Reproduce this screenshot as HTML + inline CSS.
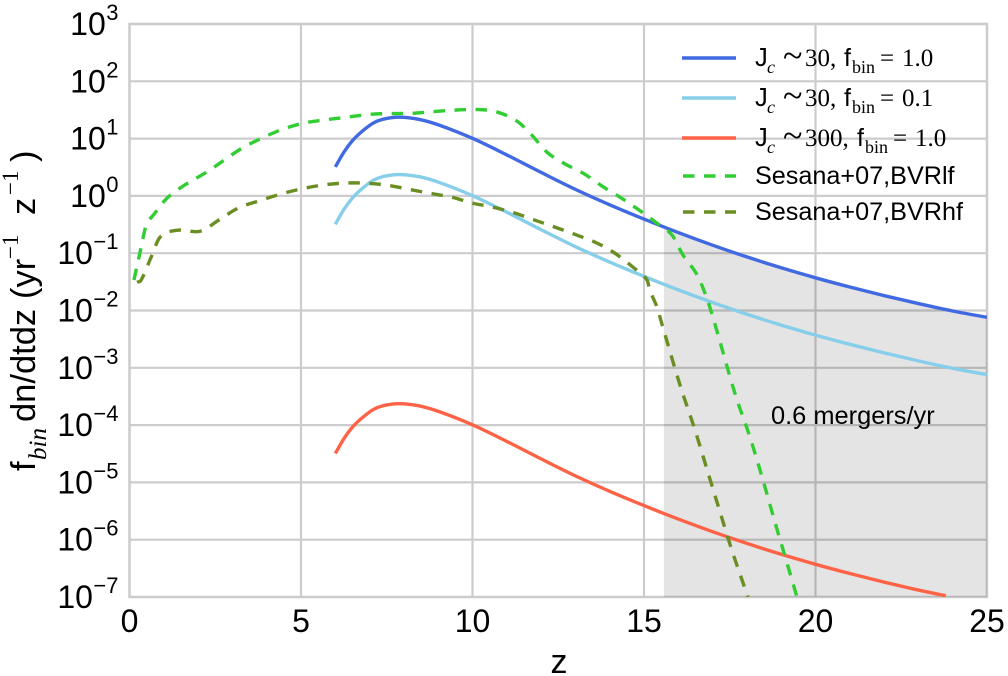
<!DOCTYPE html>
<html lang="en">
<head>
<meta charset="utf-8">
<title>Merger rate versus redshift</title>
<style>
html,body{margin:0;padding:0;background:#fff;width:1008px;height:676px;overflow:hidden}
svg{display:block}
text{font-family:"Liberation Sans",sans-serif;fill:#000}
.serif{font-family:"Liberation Serif",serif}
.curve{fill:none;stroke-width:3.4}
.dash{stroke-dasharray:11.5 9.5}
</style>
</head>
<body>
<svg id="chart" xmlns="http://www.w3.org/2000/svg" width="1008" height="676" viewBox="0 0 1008 676">
  <defs><clipPath id="plot-clip"><rect x="129.5" y="24" width="857.5" height="573"/></clipPath></defs>
  <rect x="129.5" y="24" width="857.5" height="573" fill="#fff"/>
  <g id="grid"></g>
  <rect id="frame" x="129.5" y="24" width="857.5" height="573" fill="none" stroke="#cccccc" stroke-width="2.4"/>
  <path id="shade" fill="#000" fill-opacity="0.105" clip-path="url(#plot-clip)"/>
  <g id="series" clip-path="url(#plot-clip)"></g>
  <g id="x-ticks"></g>
  <g id="y-ticks"></g>

  <text x="559" y="673" font-size="34" text-anchor="middle">z</text>

  <g transform="translate(35,471) rotate(-90)">
    <text x="0" y="0" font-size="34.5">f</text>
    <text class="serif" x="11" y="11" font-size="25" font-style="italic">bin</text>
    <text x="49" y="0" font-size="34.5">dn/dtdz</text>
    <text x="172" y="0" font-size="34.5">(yr</text>
    <text class="serif" x="212" y="-17" font-size="23">−1</text>
    <text x="256" y="0" font-size="34.5">z</text>
    <text class="serif" x="276" y="-17" font-size="23">−1</text>
    <text x="309" y="0" font-size="34.5">)</text>
  </g>

  <text x="771" y="424" font-size="25.4">0.6 mergers/yr</text>

  <g>
    <g>
      <line x1="682" x2="736" y1="58" y2="58" stroke="#4169e1" stroke-width="3.4"/>
      <text x="755" y="66" font-size="25.5">J</text>
      <text class="serif" x="767" y="73" font-size="18" font-style="italic">c</text>
      <text class="serif" x="783" y="67.5" font-size="36">~</text>
      <text class="serif" x="805" y="66" font-size="25">30,</text>
      <text x="844" y="66" font-size="25">f</text>
      <text class="serif" x="852" y="73" font-size="18">bin</text>
      <text class="serif" x="880" y="66" font-size="25">=</text>
      <text class="serif" x="902" y="66" font-size="25">1.0</text>
    </g>
    <g>
      <line x1="682" x2="736" y1="98" y2="98" stroke="#87ceeb" stroke-width="3.4"/>
      <text x="755" y="106" font-size="25.5">J</text>
      <text class="serif" x="767" y="113" font-size="18" font-style="italic">c</text>
      <text class="serif" x="783" y="107.5" font-size="36">~</text>
      <text class="serif" x="805" y="106" font-size="25">30,</text>
      <text x="844" y="106" font-size="25">f</text>
      <text class="serif" x="852" y="113" font-size="18">bin</text>
      <text class="serif" x="880" y="106" font-size="25">=</text>
      <text class="serif" x="902" y="106" font-size="25">0.1</text>
    </g>
    <g>
      <line x1="682" x2="736" y1="138" y2="138" stroke="#ff6347" stroke-width="3.4"/>
      <text x="755" y="146" font-size="25.5">J</text>
      <text class="serif" x="767" y="153" font-size="18" font-style="italic">c</text>
      <text class="serif" x="783" y="147.5" font-size="36">~</text>
      <text class="serif" x="805" y="146" font-size="25">300,</text>
      <text x="857" y="146" font-size="25">f</text>
      <text class="serif" x="865" y="153" font-size="18">bin</text>
      <text class="serif" x="893" y="146" font-size="25">=</text>
      <text class="serif" x="915" y="146" font-size="25">1.0</text>
    </g>
    <g>
      <line class="dash" x1="683" x2="736" y1="176" y2="176" stroke="#32cd32" stroke-width="3.4"/>
      <text x="755" y="184" font-size="25.2">Sesana+07,BVRlf</text>
    </g>
    <g>
      <line class="dash" x1="683" x2="736" y1="212" y2="212" stroke="#6b8e23" stroke-width="3.4"/>
      <text x="755" y="220" font-size="25.2">Sesana+07,BVRhf</text>
    </g>
  </g>
</svg>
<script>
// Chart data (z = redshift, values = f_bin dn/dtdz in yr^-1 z^-1)
const xTickValues = [0, 5, 10, 15, 20, 25];
const yTickExponents = [3, 2, 1, 0, -1, -2, -3, -4, -5, -6, -7];

const jcZ = [6, 6.25, 6.5, 6.75, 7.1, 7.4, 7.85, 8.47, 9.05, 10, 11, 12, 13, 14, 15, 16, 17, 18, 19, 20, 21, 22, 23, 24, 25];
const jc30Fbin1 = [3.2, 5.8, 9.2, 12.9, 18.6, 21.8, 23.6, 21.5, 17, 10.1, 5.19, 2.57, 1.3, 0.7, 0.394, 0.229, 0.138, 0.0861, 0.0556, 0.0372, 0.0257, 0.0182, 0.0132, 0.0098, 0.0076];
const jc30Fbin01 = [0.32, 0.58, 0.92, 1.29, 1.86, 2.18, 2.36, 2.15, 1.7, 1.01, 0.519, 0.257, 0.13, 0.07, 0.0394, 0.0229, 0.0138, 0.00861, 0.00556, 0.00372, 0.00257, 0.00182, 0.00132, 0.00098, 0.00076];

const jc300Z = [6, 6.25, 6.5, 6.75, 7.1, 7.4, 7.85, 8.47, 9.05, 10, 11, 12, 13, 14, 15, 16, 17, 18, 19, 20, 21, 22, 23, 23.8];
const jc300Fbin1 = [3.2e-5, 5.8e-5, 9.2e-5, 1.29e-4, 1.86e-4, 2.18e-4, 2.36e-4, 2.15e-4, 1.7e-4, 1.01e-4, 5.19e-5, 2.57e-5, 1.3e-5, 7e-6, 3.94e-6, 2.29e-6, 1.38e-6, 8.61e-7, 5.56e-7, 3.72e-7, 2.57e-7, 1.82e-7, 1.32e-7, 1.05e-7];

const bvrlfZ = [0.13, 0.34, 0.48, 0.74, 1.09, 1.56, 2.29, 2.84, 3.28, 3.86, 4.39, 5.06, 5.64, 6.34, 7.07, 8.27, 8.67, 9.43, 10.13, 10.71, 11.3, 11.73, 12.17, 12.7, 13.22, 13.78, 14.3, 14.82, 15.38, 15.82, 16.14, 16.52, 16.78, 17.01, 17.65, 18.09, 18.47, 18.82, 19.17, 19.46];
const bvrlfValues = [0.034, 0.127, 0.296, 0.5, 0.91, 1.48, 2.7, 4.55, 6.8, 10.2, 14, 18.6, 21, 23.6, 26.7, 27.7, 28.9, 31.3, 32.2, 29.2, 20.1, 11.5, 5.8, 3.6, 2.5, 1.48, 0.95, 0.586, 0.334, 0.206, 0.092, 0.0448, 0.02, 0.0076, 3.6e-4, 6.15e-5, 1.09e-5, 2.0e-6, 3.9e-7, 1e-7];

const bvrhfZ = [0.22, 0.34, 0.63, 0.89, 1.41, 2.06, 2.64, 3.16, 3.75, 4.39, 4.97, 5.61, 6.22, 6.86, 7.51, 8.12, 8.76, 9.4, 9.99, 10.6, 11.24, 11.82, 12.41, 13.05, 13.63, 14.15, 14.68, 15.09, 15.17, 15.38, 15.53, 16.05, 16.49, 16.87, 17.22, 17.56, 18.03];
const bvrhfValues = [0.031, 0.034, 0.085, 0.19, 0.252, 0.242, 0.392, 0.61, 0.81, 1.07, 1.31, 1.54, 1.67, 1.67, 1.54, 1.31, 1.11, 0.95, 0.75, 0.635, 0.5, 0.377, 0.284, 0.206, 0.15, 0.1, 0.057, 0.034, 0.0226, 0.0114, 0.0056, 5e-4, 8.1e-5, 1.45e-5, 3.0e-6, 6.6e-7, 1e-7];

const shadeStartZ = 15.58;
const shadeEndZ = 25;

const NS = 'http://www.w3.org/2000/svg';
function xScale(z) { return 129.5 + z * 34.3; }
function yScale(v) { return 24 + (3 - Math.log10(v)) * 57.3; }

// Smooth path through the data points (cubic Hermite over x, tangent = neighbour slope)
function smoothPath(pts) {
  const slope = function (i) {
    const a = pts[Math.max(i - 1, 0)], b = pts[Math.min(i + 1, pts.length - 1)];
    return (b[1] - a[1]) / (b[0] - a[0]);
  };
  let d = 'M' + pts[0][0].toFixed(2) + ' ' + pts[0][1].toFixed(2);
  for (let i = 0; i < pts.length - 1; i++) {
    const p1 = pts[i], p2 = pts[i + 1], h = (p2[0] - p1[0]) / 3;
    const c1x = p1[0] + h, c1y = p1[1] + slope(i) * h;
    const c2x = p2[0] - h, c2y = p2[1] - slope(i + 1) * h;
    d += 'C' + c1x.toFixed(2) + ' ' + c1y.toFixed(2) + ' ' + c2x.toFixed(2) + ' ' + c2y.toFixed(2) + ' ' + p2[0].toFixed(2) + ' ' + p2[1].toFixed(2);
  }
  return d;
}
function toPoints(zs, vs) { return zs.map(function (z, i) { return [xScale(z), yScale(vs[i])]; }); }

// Grid lines
const grid = document.getElementById('grid');
xTickValues.forEach(function (t) {
  const line = document.createElementNS(NS, 'line');
  
  
  line.setAttribute('x1', xScale(t));
  line.setAttribute('x2', xScale(t));
  line.setAttribute('y1', yScale(1000));
  line.setAttribute('y2', yScale(1e-7));
  line.setAttribute('stroke', '#cccccc');
  line.setAttribute('stroke-width', '2.2');
  grid.appendChild(line);
});
yTickExponents.forEach(function (e) {
  const line = document.createElementNS(NS, 'line');
  
  
  line.setAttribute('x1', xScale(0));
  line.setAttribute('x2', xScale(25));
  line.setAttribute('y1', yScale(Math.pow(10, e)));
  line.setAttribute('y2', yScale(Math.pow(10, e)));
  line.setAttribute('stroke', '#cccccc');
  line.setAttribute('stroke-width', '2.2');
  grid.appendChild(line);
});

// Shaded region under the J_c~30, f_bin=1.0 curve
const shadeZ = [];
const shadeV = [];
jcZ.forEach(function (z, i) {
  if (i + 1 < jcZ.length && z <= shadeStartZ && jcZ[i + 1] > shadeStartZ) {
    const f = (shadeStartZ - z) / (jcZ[i + 1] - z);
    shadeZ.push(shadeStartZ);
    shadeV.push(Math.pow(10, Math.log10(jc30Fbin1[i]) + f * (Math.log10(jc30Fbin1[i + 1]) - Math.log10(jc30Fbin1[i]))));
  }
  if (z > shadeStartZ && z <= shadeEndZ) {
    shadeZ.push(z);
    shadeV.push(jc30Fbin1[i]);
  }
});
document.getElementById('shade').setAttribute('d',
  smoothPath(toPoints(shadeZ, shadeV)) +
  'L' + xScale(shadeEndZ) + ' ' + yScale(1e-7) +
  'L' + xScale(shadeStartZ) + ' ' + yScale(1e-7) + 'Z');

// Series
const seriesGroup = document.getElementById('series');
function addCurve(name, zs, vs, color, dashed) {
  const path = document.createElementNS(NS, 'path');
  
  
  path.setAttribute('class', dashed ? 'curve dash' : 'curve');
  path.setAttribute('stroke', color);
  path.setAttribute('d', smoothPath(toPoints(zs, vs)));
  seriesGroup.appendChild(path);
}
addCurve('line-jc30-fbin1', jcZ, jc30Fbin1, '#4169e1', false);
addCurve('line-jc30-fbin01', jcZ, jc30Fbin01, '#87ceeb', false);
addCurve('line-jc300-fbin1', jc300Z, jc300Fbin1, '#ff6347', false);
addCurve('line-sesana-bvrlf', bvrlfZ, bvrlfValues, '#32cd32', true);
addCurve('line-sesana-bvrhf', bvrhfZ, bvrhfValues, '#6b8e23', true);

// X tick labels
const xTicks = document.getElementById('x-ticks');
xTickValues.forEach(function (t) {
  const label = document.createElementNS(NS, 'text');
  
  
  label.setAttribute('x', xScale(t));
  label.setAttribute('y', '632');
  label.setAttribute('font-size', '32');
  label.setAttribute('text-anchor', 'middle');
  label.textContent = String(t);
  xTicks.appendChild(label);
});

// Y tick labels
const yTicks = document.getElementById('y-ticks');
yTickExponents.forEach(function (e) {
  const y = yScale(Math.pow(10, e));
  const label = document.createElementNS(NS, 'text');
  
  
  label.setAttribute('x', '118.5');
  label.setAttribute('y', y + 11);
  label.setAttribute('font-size', '32');
  label.setAttribute('text-anchor', 'end');
  const base = document.createElementNS(NS, 'tspan');
  base.textContent = '10';
  const sup = document.createElementNS(NS, 'tspan');
  sup.setAttribute('dy', '-15');
  sup.setAttribute('dx', '0.5');
  sup.setAttribute('font-size', '22');
  sup.textContent = e < 0 ? '\u2212' + Math.abs(e) : String(e);
  label.appendChild(base);
  label.appendChild(sup);
  yTicks.appendChild(label);
});
</script>
</body>
</html>
